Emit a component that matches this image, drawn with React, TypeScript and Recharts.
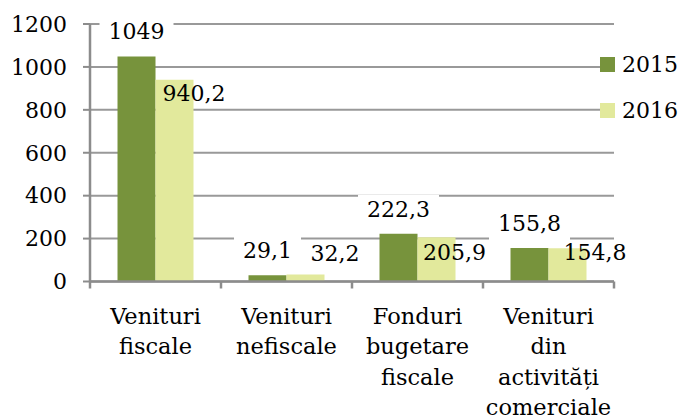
import { BarChart, Bar, XAxis, YAxis, CartesianGrid, Legend, LabelList } from 'recharts'

const CATEGORIES = [
  'Venituri fiscale',
  'Venituri nefiscale',
  'Fonduri bugetare fiscale',
  'Venituri din activități comerciale',
]
const VALUES_2015 = [1049, 29.1, 222.3, 155.8]
const VALUES_2016 = [940.2, 32.2, 205.9, 154.8]
const SERIES = ['2015', '2016']
const Y_TICKS = [0, 200, 400, 600, 800, 1000, 1200]

// 2016 labels were hand-placed in the original: [dx from bar centre, baseline below bar top]
const NUDGE_2016: [number, number][] = [[19.5, 21], [29.5, -13.5], [18, 23], [27.5, 12]]

const COLORS: Record<string, string> = { '2015': '#77933C', '2016': '#E2E99C' }
const FONT = "'DejaVu Serif', serif"
const GRID = '#999999'
const AXIS = '#8C8C8C'

const W = 683
const H = 419
const Y_AXIS_W = 90
const LEGEND_W = 69
const BAND = (W - Y_AXIS_W - LEGEND_W) / CATEGORIES.length

const data = CATEGORIES.map((name, i) => ({
  name,
  '2015': VALUES_2015[i],
  '2016': VALUES_2016[i],
}))

const fmt = (v: number) => String(v).replace('.', ',')
const textWidth = (s: string) => [...s].reduce((w, c) => w + (c === ',' ? 7 : 14), 0)

function CategoryTick(props: any) {
  const { x, y, payload, index } = props
  const words = String(payload.value).split(' ')
  const left = x - BAND / 2
  const right = x + BAND / 2
  return (
    <g>
      <line x1={left} x2={left} y1={y} y2={y + 7} stroke={AXIS} strokeWidth={2.5} />
      {index === CATEGORIES.length - 1 && (
        <line x1={right} x2={right} y1={y} y2={y + 7} stroke={AXIS} strokeWidth={2.5} />
      )}
      <text textAnchor="middle" fontFamily={FONT} fontSize={22.5} fill="#000">
        {words.map((w, i) => (
          <tspan key={i} x={x} y={y + 42 + i * 30.5}>{w}</tspan>
        ))}
      </text>
    </g>
  )
}

function Label2015(props: any) {
  const { x, y, width, value } = props
  const s = fmt(value)
  const cx = x + width / 2
  const base = y - 17
  const tw = textWidth(s)
  return (
    <g>
      <rect x={cx - tw / 2 - 9} y={base - 22} width={tw + 18} height={32} fill="#fff" />
      <text x={cx} y={base} textAnchor="middle" fontFamily={FONT} fontSize={22} fill="#000">{s}</text>
    </g>
  )
}

function Label2016(props: any) {
  const { x, y, width, value, index } = props
  const [dx, dy] = NUDGE_2016[index]
  return (
    <text x={x + width / 2 + dx} y={y + dy} textAnchor="middle" fontFamily={FONT} fontSize={22} fill="#000">
      {fmt(value)}
    </text>
  )
}

function LegendBox(props: any) {
  const items = props.payload || []
  return (
    <div>
      {items.map((it: any) => (
        <div key={it.value} style={{ height: 46, display: 'flex', alignItems: 'center', whiteSpace: 'nowrap' }}>
          <span style={{ display: 'block', flex: '0 0 15px', width: 15, height: 15, background: it.color, marginRight: 7, marginLeft: 2 }} />
          <span style={{ fontFamily: FONT, fontSize: 22, color: '#000' }}>{it.value}</span>
        </div>
      ))}
    </div>
  )
}

export default function App() {
  return (
    <div style={{ position: 'absolute', left: 0, top: 0, background: '#fff' }}>
      <BarChart width={W} height={H} data={data} margin={{ top: 24, right: 0, bottom: 0, left: 0 }}
        barCategoryGap="21%" barGap={0}>
        <CartesianGrid horizontal vertical={false} stroke={GRID} strokeWidth={2} />
        <XAxis dataKey="name" interval={0} height={137.5} tick={<CategoryTick />}
          tickLine={false} tickSize={0} tickMargin={0}
          axisLine={{ stroke: AXIS, strokeWidth: 2.5 }} />
        <YAxis width={Y_AXIS_W} domain={[0, 1200]} ticks={Y_TICKS} interval={0}
          tickSize={7} tickMargin={16}
          tick={{ fill: '#000', fontSize: 22, fontFamily: FONT }}
          tickLine={{ stroke: AXIS, strokeWidth: 2 }}
          axisLine={{ stroke: AXIS, strokeWidth: 2.5 }} />
        <Legend layout="vertical" align="right" verticalAlign="top" content={<LegendBox />}
          wrapperStyle={{ width: LEGEND_W, left: 598, top: 41.5 }} />
        {SERIES.map(s => (
          <Bar key={s} dataKey={s} name={s} fill={COLORS[s]} isAnimationActive={false}>
            <LabelList dataKey={s} content={s === '2015' ? <Label2015 /> : <Label2016 />} />
          </Bar>
        ))}
      </BarChart>
    </div>
  )
}
